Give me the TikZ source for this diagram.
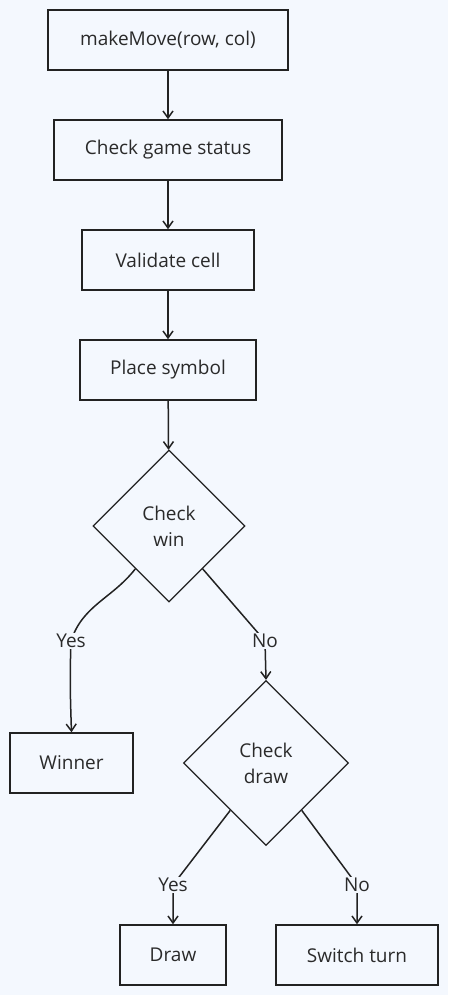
\documentclass[tikz,border=0pt]{standalone}
\usepackage{fontspec}
\setmainfont{Open Sans}
\usetikzlibrary{shapes.geometric,arrows.meta,calc}
\definecolor{bg}{HTML}{F4F8FE}
\definecolor{ln}{HTML}{222222}
\definecolor{tx}{HTML}{2A2A2A}
\begin{document}
\begin{tikzpicture}[x=1pt,y=-1pt,
  every node/.style={font=\fontsize{19}{26}\selectfont, text=tx},
  box/.style={draw=ln, line width=1.5pt, rectangle, minimum height=60pt, inner sep=0pt, fill=bg},
  dia/.style={draw=ln, line width=1.3pt, diamond, inner sep=0pt, align=center, fill=bg},
  arr/.style={draw=ln, line width=1.5pt, -{Straight Barb[length=7pt,width=10pt]}},
  lbl/.style={fill=bg, inner sep=1pt}
]
\fill[bg] (0,0) rectangle (448,995);
\useasboundingbox (0,0) rectangle (448,995);
\node[box, minimum width=240pt] (n1) at (168,40) {makeMove(row, col)};
\node[box, minimum width=228pt] (n2) at (168,150) {Check game status};
\node[box, minimum width=172pt] (n3) at (168,260) {Validate cell};
\node[box, minimum width=176pt] (n4) at (168,370) {Place symbol};
\node[dia, minimum width=152pt, minimum height=152pt] (cw) at (169,526) {Check\\win};
\node[box, minimum width=123pt] (win) at (71.5,763) {Winner};
\node[dia, minimum width=165pt, minimum height=165pt] (cd) at (266,763) {Check\\draw};
\node[box, minimum width=106pt] (dr) at (173,955) {Draw};
\node[box, minimum width=162pt] (sw) at (357,955) {Switch turn};
\coordinate (ly1) at (71,641);
\coordinate (ln1) at (265,641);
\coordinate (ly2) at (173,885);
\coordinate (ln2) at (357,885);
\draw[arr] (n1) -- (n2);
\draw[arr] (n2) -- (n3);
\draw[arr] (n3) -- (n4);
\draw[arr] (n4) -- (cw);
\draw[arr] ($(cw.west)!0.56!(cw.south)$) to[out=-128,in=72] (ly1) to[out=-92,in=92] (win.north);
\draw[arr] ($(cw.south east)!0.12!(cw.south)$) -- (ln1) -- (cd.north);
\draw[arr] ($(cd.west)!0.57!(cd.south)$) -- (ly2) -- (dr.north);
\draw[arr] ($(cd.south east)!0.14!(cd.south)$) -- (ln2) -- (sw.north);
\node[lbl] (tly1) at (ly1) {Yes};
\node[lbl] (tln1) at (ln1) {No};
\node[lbl] (tly2) at (ly2) {Yes};
\node[lbl] (tln2) at (ln2) {No};
\end{tikzpicture}
\end{document}
